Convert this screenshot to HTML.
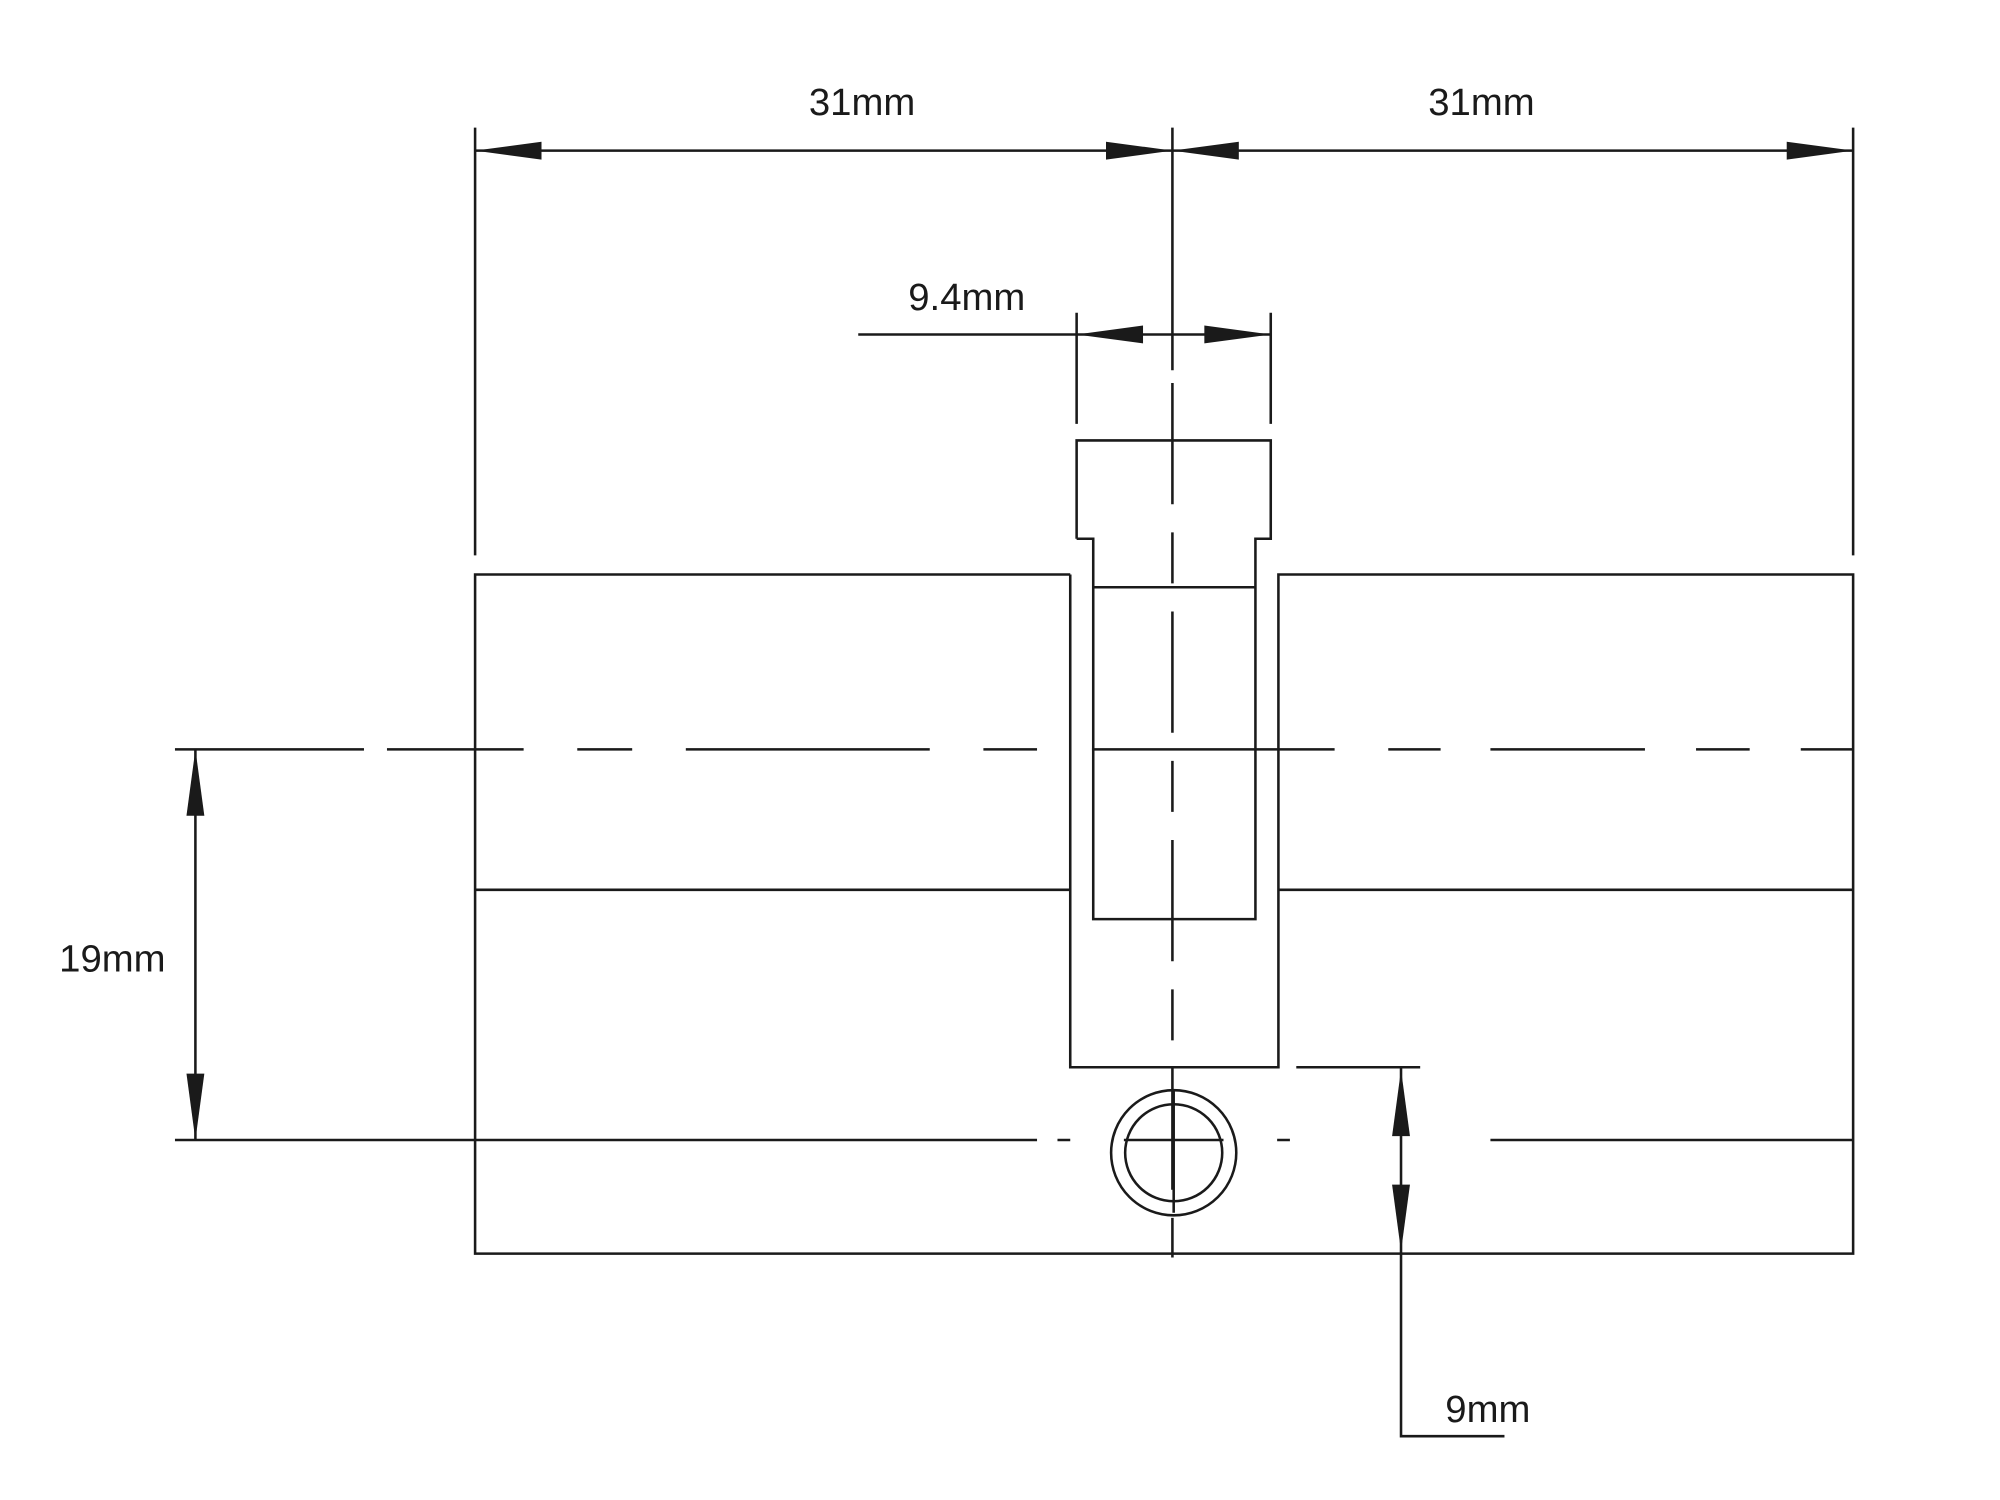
<!DOCTYPE html>
<html><head><meta charset="utf-8"><style>html,body{margin:0;padding:0;background:#fff}svg{display:block}</style></head>
<body>
<svg width="2000" height="1500" viewBox="0 0 1566 1175" preserveAspectRatio="none" xmlns="http://www.w3.org/2000/svg">
<g stroke="#1a1a1a" stroke-width="2" fill="none">
<line x1="372" y1="100" x2="372" y2="435"/>
<line x1="1451" y1="100" x2="1451" y2="435"/>
<line x1="372" y1="118" x2="1451" y2="118"/>
<line x1="918" y1="100" x2="918" y2="290"/>
<line x1="672" y1="262" x2="995" y2="262"/>
<line x1="843" y1="245" x2="843" y2="332"/>
<line x1="995" y1="245" x2="995" y2="332"/>
<line x1="918" y1="300" x2="918" y2="985" stroke-dasharray="95,22,40,22"/>
<polyline points="843,422 843,345 995,345 995,422 983,422 983,720 856,720 856,422 843,422"/>
<line x1="856" y1="460" x2="983" y2="460"/>
<polyline points="838,450 372,450 372,982 1451,982 1451,450 1001,450 1001,836 838,836 838,450"/>
<line x1="372" y1="697" x2="838" y2="697"/>
<line x1="1001" y1="697" x2="1451" y2="697"/>
<path d="M137 587H285M303 587H410M452 587H495M537 587H728M770 587H812M855 587H1045M1087 587H1128M1167 587H1288M1328 587H1370M1410 587H1451"/>
<path d="M137 893H812M828 893H838M1000 893H1010M1167 893H1451"/>
<line x1="153" y1="587" x2="153" y2="893"/>
<circle cx="919" cy="903" r="49"/>
<circle cx="919" cy="903" r="38"/>
<line x1="880" y1="893" x2="958" y2="893"/>
<line x1="919" y1="855" x2="919" y2="950"/>
<line x1="1015" y1="836" x2="1112" y2="836"/>
<polyline points="1097,836 1097,1125 1178,1125"/>
</g>
<g fill="#1a1a1a">
<polygon points="372,118 424,111 424,125"/>
<polygon points="918,118 866,111 866,125"/>
<polygon points="918,118 970,111 970,125"/>
<polygon points="1451,118 1399,111 1399,125"/>
<polygon points="843,262 895,255 895,269"/>
<polygon points="995,262 943,255 943,269"/>
<polygon points="153,587 146,639 160,639"/>
<polygon points="153,893 146,841 160,841"/>
<polygon points="1097,838 1090,890 1104,890"/>
<polygon points="1097,980 1090,928 1104,928"/>
</g>
<g font-family="Liberation Sans, sans-serif" font-size="30" fill="#1a1a1a" text-anchor="middle">
<text x="675" y="90">31mm</text>
<text x="1160" y="90">31mm</text>
<text x="757" y="243">9.4mm</text>
<text x="88" y="761">19mm</text>
<text x="1165" y="1114">9mm</text>
</g>
</svg>
</body></html>
